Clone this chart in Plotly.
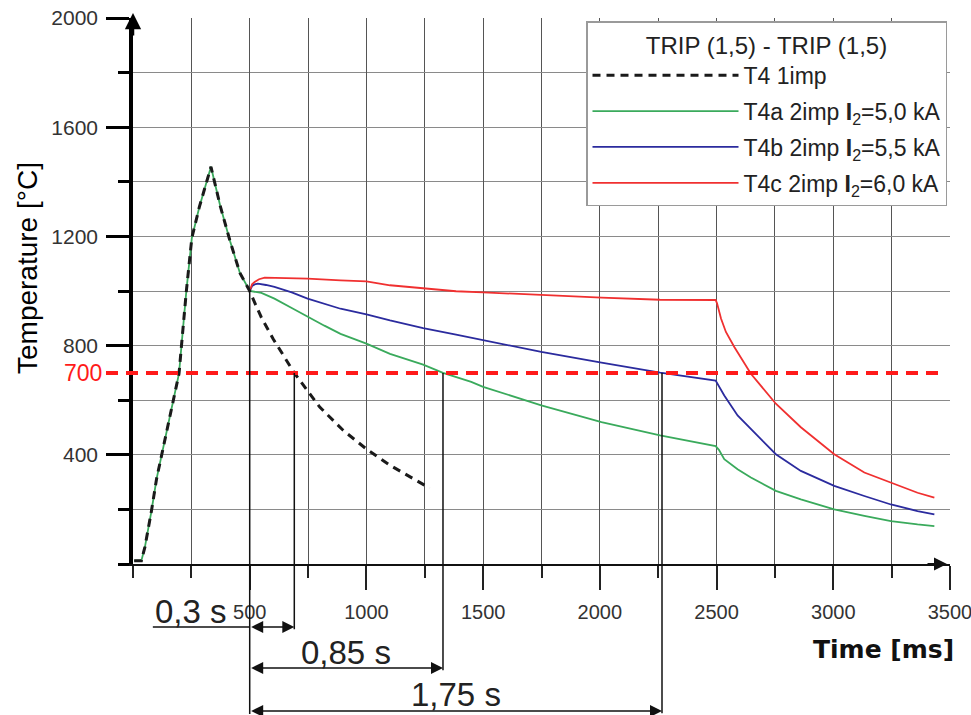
import numpy as np
import plotly.graph_objects as go

# ---------------- data ----------------
# common heating / first cooling part (0 .. 500 ms)
heat_t = [5, 36, 51, 65, 79, 101, 130, 168, 197, 228, 252, 284, 313, 334, 373, 416, 458, 500]
heat_T = [12, 12, 62, 125, 194, 312, 430, 575, 697, 995, 1194, 1307, 1388, 1455, 1314, 1182, 1066, 1000]

# T4 1imp : free cooling after 500 ms
t4_t = [525, 550, 600, 650, 691, 750, 800, 900, 1000, 1100, 1200, 1271]
t4_T = [950, 903, 825, 757, 700, 632, 575, 490, 421, 362, 312, 278]

# T4a 2imp I2=5,0 kA
t4a_t = [550, 606, 680, 748, 820, 889, 1000, 1101, 1243, 1328, 1449, 1500, 1749, 2007,
         2258, 2496, 2510, 2533, 2590, 2647, 2754, 2861, 3004, 3133, 3247, 3361, 3433]
t4a_T = [993, 972, 938, 905, 873, 843, 807, 770, 730, 700, 667, 649, 581, 520,
         471, 432, 418, 384, 347, 317, 268, 237, 200, 176, 157, 145, 139]

# T4b 2imp I2=5,5 kA
t4b_t = [500, 510, 521, 535, 570, 606, 680, 748, 889, 1000, 1101, 1243, 1384, 1500, 1749,
         2007, 2258, 2496, 2533, 2590, 2647, 2754, 2861, 3004, 3133, 3247, 3361, 3433]
t4b_T = [1000, 1018, 1024, 1027, 1022, 1015, 995, 972, 935, 914, 892, 864, 840, 820, 777,
         738, 701, 672, 617, 544, 495, 402, 341, 286, 249, 218, 194, 182]

# T4c 2imp I2=6,0 kA
t4c_t = [500, 510, 521, 540, 564, 650, 748, 889, 1000, 1101, 1243, 1384, 1500, 1749, 2007,
         2258, 2496, 2502, 2519, 2540, 2576, 2647, 2754, 2861, 3004, 3133, 3247, 3361, 3433]
t4c_T = [1000, 1025, 1033, 1043, 1049, 1048, 1045, 1039, 1035, 1021, 1009, 999, 995, 985, 976,
         968, 967, 955, 899, 850, 795, 697, 587, 501, 402, 335, 298, 261, 243]

series_names = ["T4 1imp",
                "T4a 2imp <b>I</b><sub>2</sub>=5,0 kA",
                "T4b 2imp <b>I</b><sub>2</sub>=5,5 kA",
                "T4c 2imp <b>I</b><sub>2</sub>=6,0 kA"]
legend_title = "TRIP (1,5) - TRIP (1,5)"

threshold = 700          # deg C
second_start = 500       # ms
threshold_end = 3465     # ms, end of the red dashed level line
interval_labels = ["0,3 s", "0,85 s", "1,75 s"]

x_ticks = [500, 1000, 1500, 2000, 2500, 3000, 3500]
y_ticks = [400, 800, 1200, 1600, 2000]
X_RANGE = [0, 3500]
Y_RANGE = [0, 2000]

# ---------------- geometry helpers (layout only) ----------------
W, H = 971, 715
L, R, T, B = 133, 21, 18, 151
PW, PH = W - L - R, H - T - B


def py(ypx):
    """pixel row -> paper y"""
    return (H - B - ypx) / PH


def px(xpx):
    """pixel column -> paper x"""
    return (xpx - L) / PW


def crossing(ts, Ts, level, after):
    for i in range(1, len(ts)):
        if ts[i - 1] >= after and Ts[i - 1] >= level > Ts[i]:
            f = (Ts[i - 1] - level) / (Ts[i - 1] - Ts[i])
            return ts[i - 1] + f * (ts[i] - ts[i - 1])
    return None


full_t4_t = heat_t + t4_t
full_t4_T = heat_T + t4_T
full_a_t = heat_t + t4a_t
full_a_T = heat_T + t4a_T

cross_t4 = crossing(full_t4_t, full_t4_T, threshold, second_start)
cross_a = crossing(full_a_t, full_a_T, threshold, second_start)
cross_b = crossing(t4b_t, t4b_T, threshold, 600)

FONT = "Liberation Sans, Arial, sans-serif"
TFONT = "DejaVu Sans, Verdana, sans-serif"

fig = go.Figure()

fig.add_trace(go.Scatter(x=t4b_t, y=t4b_T, mode="lines", name=series_names[2],
                         line=dict(color="#2b2b9e", width=1.8), legendrank=3,
                         legendgroup="b"))
fig.add_trace(go.Scatter(x=t4c_t, y=t4c_T, mode="lines", name=series_names[3],
                         line=dict(color="#f03030", width=1.8), legendrank=4,
                         legendgroup="c"))
fig.add_trace(go.Scatter(x=full_a_t, y=full_a_T, mode="lines", name=series_names[1],
                         line=dict(color="#3aaa5c", width=1.8), legendrank=2,
                         legendgroup="a"))
fig.add_trace(go.Scatter(x=full_t4_t, y=full_t4_T, mode="lines", name=series_names[0],
                         line=dict(color="#1a1a1a", width=3, dash="8px,6px"), legendrank=1,
                         legendgroup="k"))

shapes = []
# 700 degC level line
shapes.append(dict(type="line", xref="paper", yref="paper",
                   x0=px(106), x1=(threshold_end - X_RANGE[0]) / (X_RANGE[1] - X_RANGE[0]),
                   y0=threshold / Y_RANGE[1], y1=threshold / Y_RANGE[1],
                   line=dict(color="#ff1a1a", width=4, dash="12px,8px"), layer="above"))

arrow_rows = [py(627), py(668), py(711)]
text_rows = [py(611), py(652), py(694)]
cross_times = [cross_t4, cross_a, cross_b]

# vertical marker at start of second pulse
shapes.append(dict(type="line", xref="x", yref="paper", x0=second_start, x1=second_start,
                   y0=1000 / Y_RANGE[1], y1=py(714), line=dict(color="#111", width=1.5)))
for tc, yr in zip(cross_times, arrow_rows):
    shapes.append(dict(type="line", xref="x", yref="paper", x0=tc, x1=tc,
                       y0=threshold / Y_RANGE[1], y1=yr - 0.004,
                       line=dict(color="#111", width=1.5)))
# underline of "0,3 s"
shapes.append(dict(type="line", xref="x", yref="paper", x0=85, x1=second_start,
                   y0=arrow_rows[0], y1=arrow_rows[0], line=dict(color="#111", width=1.3)))

annotations = []
for tc, yr in zip(cross_times, arrow_rows):
    annotations.append(dict(x=tc, y=yr, xref="x", yref="paper", ax=second_start, ay=0,
                            axref="x", ayref="pixel", text="", showarrow=True,
                            arrowhead=2, arrowside="end+start", arrowsize=1.5,
                            arrowwidth=1.6, arrowcolor="#111", standoff=0, startstandoff=0))
annotations.append(dict(x=249, y=text_rows[0], xref="x", yref="paper", text=interval_labels[0],
                        showarrow=False, font=dict(family=FONT, size=33, color="#222"),
                        xanchor="center", yanchor="middle"))
annotations.append(dict(x=(second_start + cross_a) / 2, y=text_rows[1], xref="x", yref="paper",
                        text=interval_labels[1], showarrow=False,
                        font=dict(family=FONT, size=33, color="#222"),
                        xanchor="center", yanchor="middle"))
annotations.append(dict(x=(second_start + cross_b) / 2, y=text_rows[2], xref="x", yref="paper",
                        text=interval_labels[2], showarrow=False,
                        font=dict(family=FONT, size=33, color="#222"),
                        xanchor="center", yanchor="middle"))
# red 700 label
annotations.append(dict(x=px(104), y=threshold / Y_RANGE[1], xref="paper", yref="paper",
                        text=str(threshold), showarrow=False,
                        font=dict(family=FONT, size=23, color="#ff1a1a"),
                        xanchor="right", yanchor="middle"))
# axis titles
annotations.append(dict(x=px(883), y=py(650), xref="paper", yref="paper", text="<b>Time [ms]</b>",
                        showarrow=False, font=dict(family=TFONT, size=25, color="#111"),
                        xanchor="center", yanchor="middle"))
annotations.append(dict(x=px(27), y=py(268), xref="paper", yref="paper",
                        text="Temperature [°C]", textangle=-90,
                        showarrow=False, font=dict(family=FONT, size=28, color="#000"),
                        xanchor="center", yanchor="middle"))
# axis arrows
annotations.append(dict(x=X_RANGE[0], y=py(13), xref="x", yref="paper", ax=0, ay=24,
                        text="", showarrow=True, arrowhead=2, arrowsize=1.3, arrowwidth=2.5,
                        arrowcolor="#000", standoff=0))
annotations.append(dict(x=X_RANGE[1], y=0, xref="x", yref="paper", ax=-24, ay=0,
                        text="", showarrow=True, arrowhead=2, arrowsize=1.3, arrowwidth=2,
                        arrowcolor="#111", standoff=3))

fig.update_layout(
    width=W, height=H,
    margin=dict(l=L, r=R, t=T, b=B, pad=0, autoexpand=False),
    paper_bgcolor="white", plot_bgcolor="white",
    font=dict(family=FONT, color="#333"),
    shapes=shapes, annotations=annotations,
    showlegend=True,
    legend=dict(x=px(586), xanchor="left", y=py(21), yanchor="top",
                bgcolor="white", bordercolor="#9a9a9a", borderwidth=1.5,
                font=dict(family=FONT, size=23, color="#222"),
                title=dict(text=legend_title, side="top center",
                           font=dict(family=FONT, size=24, color="#222")),
                itemwidth=146, tracegroupgap=3, traceorder="grouped"),
    xaxis=dict(range=X_RANGE, tickvals=x_ticks, ticktext=[str(v) for v in x_ticks],
               automargin=False,
               showgrid=True, gridcolor="#555", gridwidth=1.1,
               ticks="outside", ticklen=24, tickwidth=1.5, tickcolor="#222",
               tickfont=dict(family=FONT, size=20, color="#333"), ticklabelstandoff=5,
               ticklabeloverflow="allow",
               showline=True, linecolor="#111", linewidth=2, zeroline=False,
               minor=dict(dtick=250, tick0=0, ticks="outside", ticklen=12, tickwidth=1.5,
                          tickcolor="#222", showgrid=True, gridcolor="#555", gridwidth=1.1)),
    yaxis=dict(range=Y_RANGE, tickvals=y_ticks, ticktext=[str(v) for v in y_ticks],
               automargin=False,
               showgrid=True, gridcolor="#8a8a8a", gridwidth=1.4,
               ticks="outside", ticklen=23, tickwidth=3, tickcolor="#000",
               tickfont=dict(family=FONT, size=21, color="#333"), ticklabelstandoff=4,
               showline=True, linecolor="#000", linewidth=3.5, zeroline=False,
               minor=dict(dtick=200, tick0=0, ticks="outside", ticklen=11, tickwidth=3,
                          tickcolor="#000", showgrid=True, gridcolor="#8a8a8a", gridwidth=1.4)),
)

fig.write_html("out.html", config={"displayModeBar": False},
               post_script="document.body.style.margin='0px';")
